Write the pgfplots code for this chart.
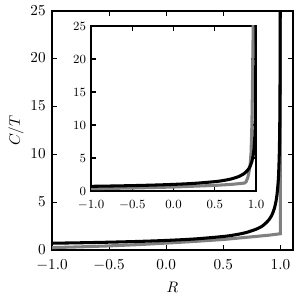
\documentclass[border=0pt]{standalone}
\usepackage{pgfplots}
\pgfplotsset{compat=1.18}
\pgfplotstableread{
R C
-1.0 0.707
-0.75 0.756
-0.5 0.816
-0.25 0.894
0.0 1.000
0.25 1.155
0.5 1.414
0.6 1.581
0.7 1.826
0.8 2.236
0.85 2.582
0.9 3.162
0.93 3.780
0.95 4.472
0.96 5.000
0.97 5.774
0.98 7.071
0.985 8.165
0.99 10.000
0.993 11.952
0.995 14.142
0.997 18.257
0.998 22.361
0.9984 25.000
0.9987 27.735
}\blackdata
\pgfplotstableread{
R C
-1.0 0.25
-0.75 0.33
-0.5 0.43
-0.25 0.56
0.0 0.72
0.25 0.90
0.5 1.10
0.75 1.38
0.9 1.55
1.0 1.70
1.0 26.0
}\graymain
\pgfplotstableread{
R C
-1.0 0.35
-0.5 0.45
0.0 0.60
0.5 0.85
0.7 1.00
0.8 1.12
0.86 1.20
0.88 1.40
0.9 2.00
0.92 3.20
0.93 4.20
0.94 5.80
0.95 10.0
0.955 14.0
0.96 19.0
0.965 24.0
0.97 28.0
}\grayinset
\begin{document}
\begin{tikzpicture}
\path[use as bounding box] (0pt,0pt) rectangle (216pt,216pt);
\begin{axis}[
  at={(37.44pt,36pt)}, anchor=south west,
  scale only axis, width=173.5pt, height=172.1pt,
  xmin=-1, xmax=1.11, ymin=0, ymax=25,
  xtick={-1,-0.5,0,0.5,1}, ytick={0,5,10,15,20,25},
  tick align=inside, major tick length=3.5pt,
  tick style={line width=0.8pt, black},
  axis line style={line width=1.1pt},
  ticklabel style={font=\fontsize{10.5}{12}\selectfont},
  xticklabel style={yshift=-3.5pt, /pgf/number format/.cd, fixed, fixed zerofill, precision=1},
  yticklabel style={xshift=-1pt, yshift=0.5pt},
  label style={font=\fontsize{11}{13}\selectfont},
  xlabel={$R$}, ylabel={$C/T$},
  xlabel style={yshift=-1pt},
  ylabel style={yshift=-2pt},
]
\addplot[gray, line width=2.2pt, no marks] table[x=R,y=C] {\graymain};
\addplot[black, line width=2.2pt, no marks, smooth] table[x=R,y=C] {\blackdata};
\end{axis}
\begin{axis}[
  at={(65.52pt,78.48pt)}, anchor=south west,
  scale only axis, width=118.8pt, height=118.8pt,
  xmin=-1, xmax=1, ymin=0, ymax=25,
  xtick={-1,-0.5,0,0.5,1}, ytick={0,5,10,15,20,25},
  tick align=inside, major tick length=3.5pt,
  tick style={line width=0.8pt, black},
  axis line style={line width=1.1pt},
  axis background/.style={fill=white},
  ticklabel style={font=\fontsize{9}{10}\selectfont},
  xticklabel style={yshift=-3pt, /pgf/number format/.cd, fixed, fixed zerofill, precision=1},
]
\addplot[gray, line width=2.2pt, no marks] table[x=R,y=C] {\grayinset};
\addplot[black, line width=2.2pt, no marks, smooth] table[x=R,y=C] {\blackdata};
\end{axis}
\end{tikzpicture}
\end{document}
